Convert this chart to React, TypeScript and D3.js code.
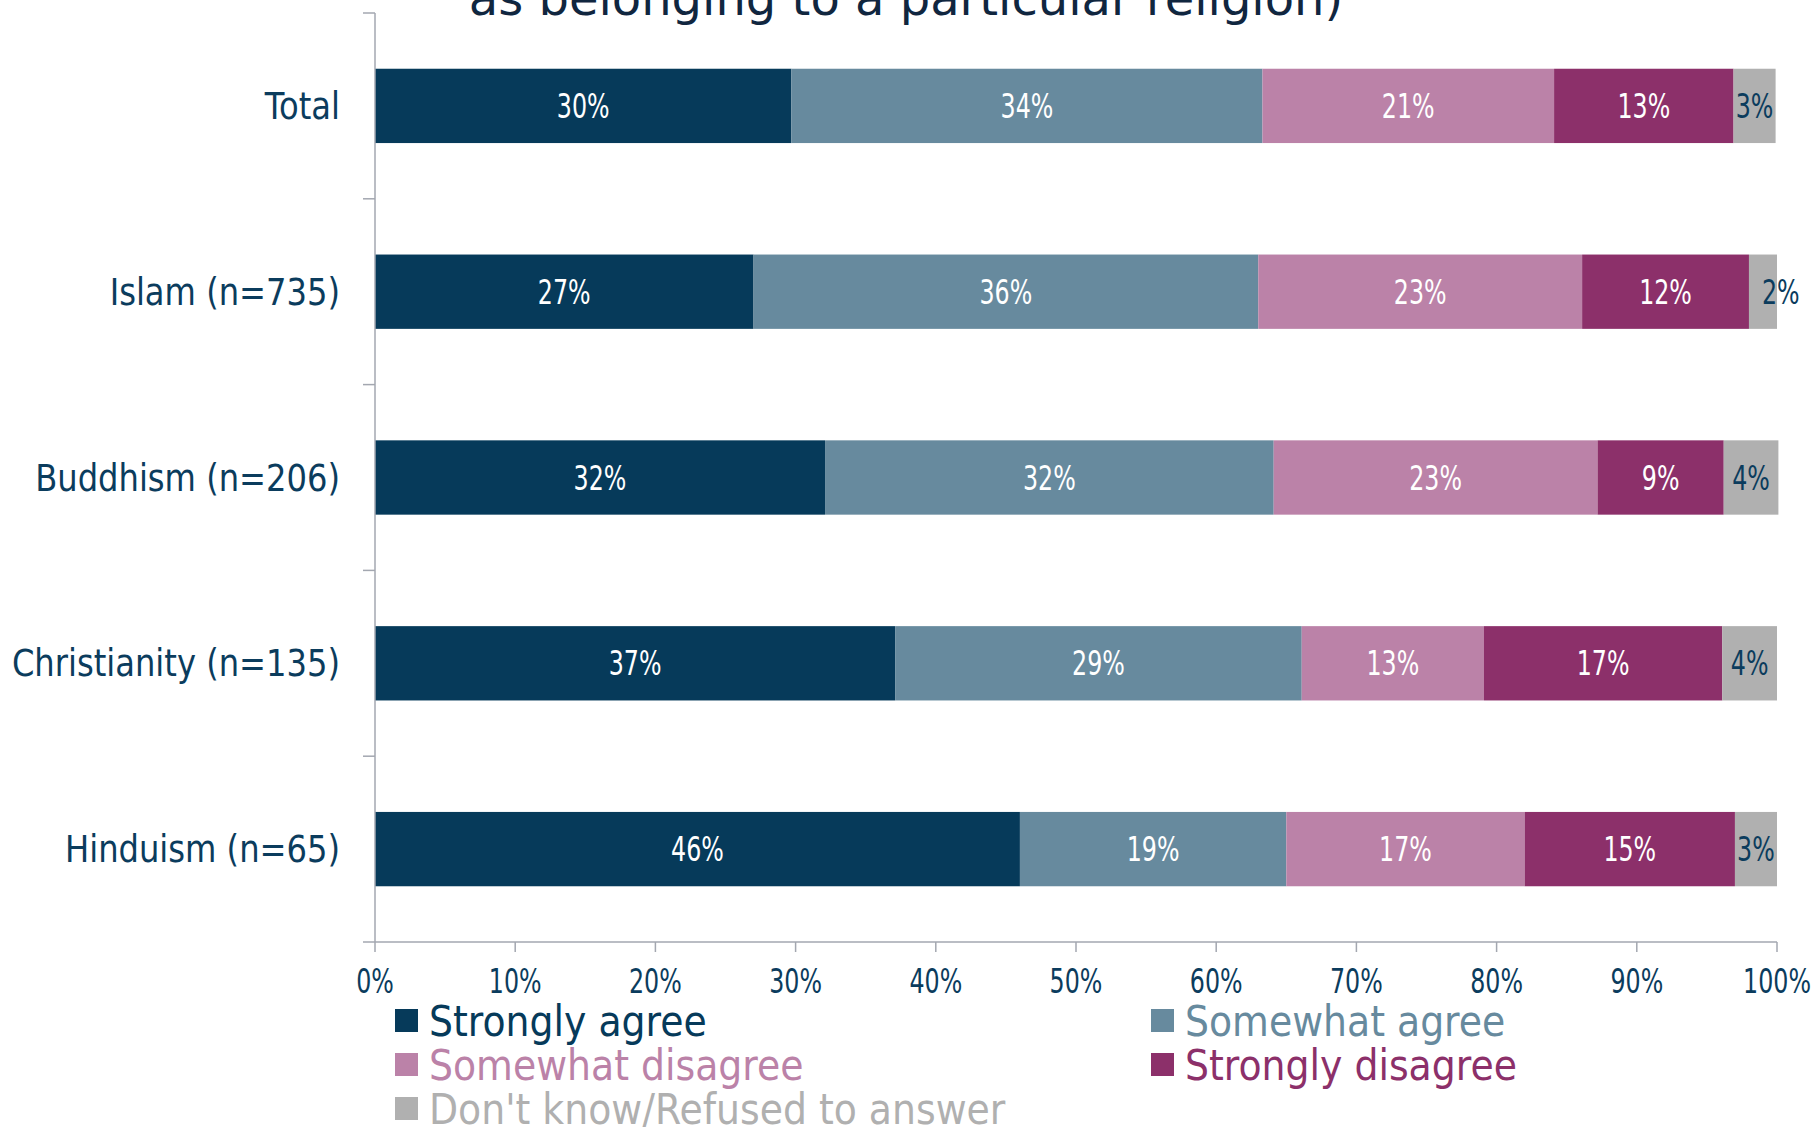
import React from "react";
import * as d3 from "d3";

const categories = ["Total", "Islam (n=735)", "Buddhism (n=206)", "Christianity (n=135)", "Hinduism (n=65)"];
const seriesNames = ["Strongly agree", "Somewhat agree", "Somewhat disagree", "Strongly disagree", "Don't know/Refused to answer"];
const stronglyAgree = [29.7, 27.0, 32.1, 37.1, 46.0];
const somewhatAgree = [33.6, 36.0, 32.0, 29.0, 19.0];
const somewhatDisagree = [20.8, 23.1, 23.1, 13.0, 17.0];
const stronglyDisagree = [12.8, 11.9, 9.0, 17.0, 15.0];
const dontKnow = [3.0, 2.0, 3.9, 3.9, 3.0];
const xTicks = [0, 10, 20, 30, 40, 50, 60, 70, 80, 90, 100];
const titleText = "as belonging to a particular religion)";

const colors = ["#063a5a", "#678a9e", "#bb82a8", "#8c306a", "#b0b0b0"];
const navy = "#0b3c5d";
const axisColor = "#a3a7b0";
const FONT = "'DejaVu Sans', sans-serif";

function SText({ x, y, sx, children, ...rest }: any) {
  return (
    <text transform={`translate(${x},${y}) scale(${sx},1)`} fontFamily={FONT} {...rest}>
      {children}
    </text>
  );
}

export default function App() {
  const W = 1817, H = 1127;
  const x0 = 375, x1 = 1777, yTop = 13, yBot = 942;
  const x = d3.scaleLinear().domain([0, 100]).range([x0, x1]);
  const y = d3.scaleBand<string>().domain(categories).range([yTop, yBot]).paddingInner(0.6).paddingOuter(0.3);

  const seriesArrays = [stronglyAgree, somewhatAgree, somewhatDisagree, stronglyDisagree, dontKnow];
  const table = categories.map((c, i) => {
    const row: any = { cat: c };
    seriesNames.forEach((s, j) => (row[s] = seriesArrays[j][i]));
    return row;
  });
  const stacked = d3.stack<any>().keys(seriesNames)(table);
  const step = y.step();
  const boundaries = d3.range(categories.length + 1).map((i) => yTop + i * step);

  const legendPos = [
    [395, 1009], [1151, 1009],
    [395, 1053], [1151, 1053],
    [395, 1097],
  ];

  return (
    <svg width={W} height={H} style={{ position: "absolute", left: 0, top: 0, background: "#fff" }}>
      <SText x={906} y={15} sx={1.0} textAnchor="middle" fontSize={48} fill="#10263f">
        {titleText}
      </SText>

      {stacked.map((layer, j) =>
        layer.map((d, i) => (
          <rect key={`${j}-${i}`} x={x(d[0])} y={y(categories[i])} width={x(d[1]) - x(d[0])} height={y.bandwidth()} fill={colors[j]} />
        ))
      )}
      {stacked.map((layer, j) =>
        layer.map((d, i) => {
          const w = x(d[1]) - x(d[0]);
          const cx = (x(d[0]) + x(d[1])) / 2;
          const narrow = w < 35;
          return (
            <SText key={`l${j}-${i}`} x={narrow ? cx - 1 : cx} y={(y(categories[i]) as number) + y.bandwidth() / 2 + 12}
              sx={0.72} textAnchor={narrow ? "start" : "middle"} fontSize={33} fill={j === 4 ? navy : "#fff"}>
              {`${Math.round(d[1] - d[0])}%`}
            </SText>
          );
        })
      )}

      {/* y axis */}
      <line x1={x0} x2={x0} y1={yTop} y2={yBot} stroke={axisColor} strokeWidth={1.5} />
      {boundaries.map((b, i) => (
        <line key={`yt${i}`} x1={x0 - 12} x2={x0} y1={b} y2={b} stroke={axisColor} strokeWidth={1.5} />
      ))}
      {categories.map((c) => (
        <SText key={c} x={340} y={(y(c) as number) + y.bandwidth() / 2 + 13} sx={0.87} textAnchor="end" fontSize={37} fill={navy}>
          {c}
        </SText>
      ))}

      {/* x axis */}
      <line x1={x0} x2={x1} y1={yBot} y2={yBot} stroke={axisColor} strokeWidth={1.5} />
      {xTicks.map((t) => (
        <g key={`xt${t}`}>
          <line x1={x(t)} x2={x(t)} y1={yBot} y2={yBot + 10} stroke={axisColor} strokeWidth={1.5} />
          <SText x={x(t)} y={993} sx={0.72} textAnchor="middle" fontSize={33} fill={navy}>
            {`${t}%`}
          </SText>
        </g>
      ))}

      {/* legend */}
      {seriesNames.map((s, j) => (
        <g key={`lg${j}`}>
          <rect x={legendPos[j][0]} y={legendPos[j][1]} width={23} height={23} fill={colors[j]} />
          <SText x={legendPos[j][0] + 34} y={legendPos[j][1] + 27} sx={0.9} fontSize={42} fill={colors[j]}>
            {s}
          </SText>
        </g>
      ))}
    </svg>
  );
}
